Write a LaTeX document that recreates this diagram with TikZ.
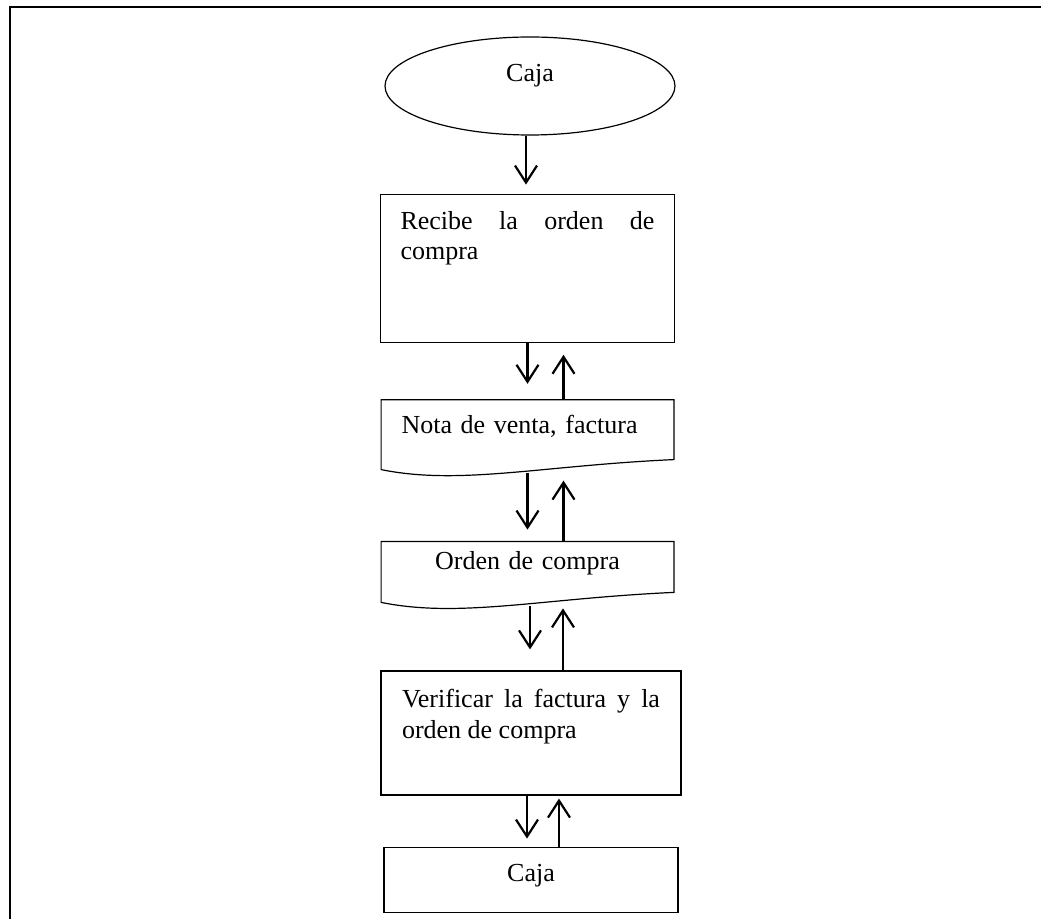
\documentclass[tikz,border=0pt]{standalone}
\usepackage{fontspec}
\setmainfont{Liberation Serif}
\usetikzlibrary{positioning,arrows.meta,shapes.geometric}

\begin{document}
\begin{tikzpicture}[
        every node/.style={font=\fontsize{13pt}{15.4pt}\selectfont},
        term/.style={draw, ellipse, line width=0.6pt, inner sep=0pt, minimum width=145pt, minimum height=49pt},
        proc/.style={draw, line width=0.6pt, inner xsep=10pt},
        docu/.style={draw=none, inner xsep=10pt, minimum width=146pt},
        outline/.style={line width=0.6pt},
        arrow/.style={-{Straight Barb[length=8.5pt, width=11pt]}, line width=1.1pt},
        frame/.style={line width=0.85pt}
    ]
        \useasboundingbox (0pt,0pt) rectangle (520.5pt,-459.5pt);
        \draw[frame] (520.5pt,-3.4pt) -- (4.85pt,-3.4pt) -- (4.85pt,-459.5pt);

        % Start
        \node[term, text height=8pt, text depth=12.5pt] (ell) at (265pt,-43pt) {Caja};

        % Steps
        \node[proc, below=29pt of ell, xshift=-1.25pt, minimum width=146.5pt, minimum height=74pt,
              text width=127pt, align=justify, text height=10pt, text depth=49pt] (box1)
              {Recibe la orden de\linebreak compra};
        \node[docu, below=28.5pt of box1, minimum height=34.5pt, text width=126pt, align=left,
              text height=8pt, text depth=9pt] (d1) {Nota de venta, factura};
        \node[docu, below=36pt of d1, minimum height=30pt, text width=126pt, align=center,
              text height=8pt, text depth=10.5pt] (d2) {Orden de compra};
        \node[proc, below=34pt of d2, xshift=1.75pt, minimum width=150pt, minimum height=62pt,
              inner xsep=10.5pt, text width=129pt, align=justify, text height=10pt, text depth=35pt] (box2)
              {Verificar la factura y la\linebreak orden de compra};
        \node[proc, below=25.5pt of box2, minimum width=147pt, minimum height=32.5pt,
              text height=8pt, text depth=6.5pt] (box3) {Caja};

        % Document outlines
        \foreach \d in {d1,d2}
            \draw[outline] (\d.south west) .. controls ([shift={(39.5pt,-8pt)}]\d.south west)
                and ([shift={(-66.5pt,2pt)}]\d.south east) .. ([yshift=5pt]\d.south east)
                -- (\d.north east) -- (\d.north west) -- cycle;

        % Arrows
        \draw[arrow, shorten >=4.5pt] ([xshift=-2pt]ell.south) -- ([xshift=-2pt]ell.south |- box1.north);
        \draw[arrow, shorten >=8pt] (box1.south) -- (box1.south |- d1.north);
        \draw[arrow, shorten >=6pt] ([xshift=18pt]d1.north) -- ([xshift=18pt]d1.north |- box1.south);
        \draw[arrow, shorten >=6pt] ([yshift=-1.5pt]d1.south) -- (d2.north);
        \draw[arrow, shorten >=5.5pt] ([xshift=18pt]d2.north) -- ([xshift=18pt]d2.north |- d1.south);
        \draw[arrow, shorten >=10.5pt] ([xshift=1.25pt, yshift=-2pt]d2.south) -- ([xshift=1.25pt]d2.south |- box2.north);
        \draw[arrow, shorten >=3pt] ([xshift=16pt]box2.north) -- ([xshift=16pt]box2.north |- d2.south);
        \draw[arrow, shorten >=4pt] ([xshift=-2pt]box2.south) -- ([xshift=-2pt]box2.south |- box3.north);
        \draw[arrow, shorten >=1.5pt] ([xshift=14pt]box3.north) -- ([xshift=14pt]box3.north |- box2.south);
    \end{tikzpicture}
\end{document}
